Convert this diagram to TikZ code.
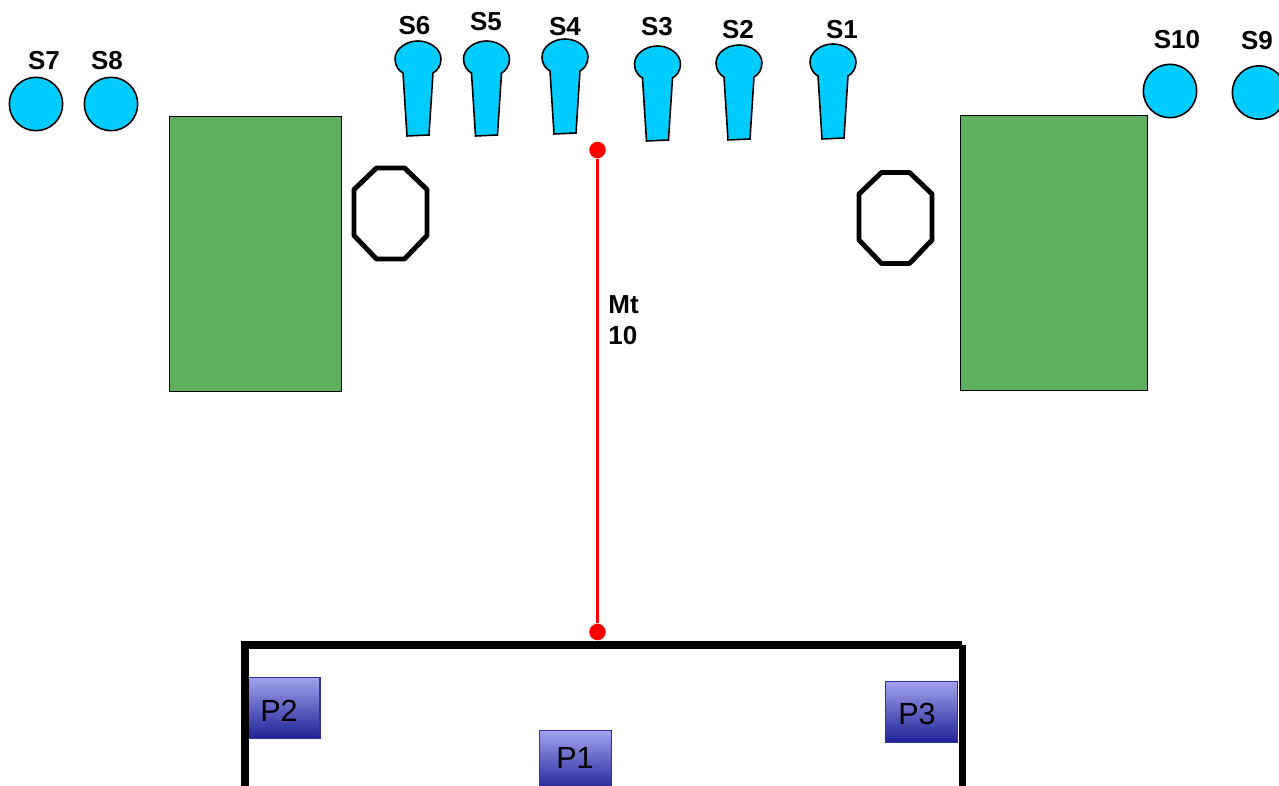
\documentclass[tikz,border=0pt]{standalone}
\usepackage{fontspec}
\setmainfont{Liberation Sans}
\definecolor{seatcyan}{RGB}{0,204,255}
\definecolor{blockgreen}{RGB}{94,176,94}
\definecolor{boxtop}{RGB}{162,162,238}
\definecolor{boxbot}{RGB}{32,32,150}
\definecolor{boxedge}{RGB}{50,50,160}
\definecolor{measurered}{RGB}{255,0,0}
\tikzset{
  lab/.style={font=\fontsize{14.8}{16}\selectfont\bfseries,inner sep=0pt},
  guest/.style={circle,draw=black,fill=seatcyan,line width=0.9pt,minimum size=30.4pt,inner sep=0pt},
  block/.style={draw=black,fill=blockgreen,line width=0.55pt},
  ring/.style={draw=black,line width=2.8pt,line join=round},
  wall/.style={line width=4.5pt},
  reddot/.style={circle,fill=measurered,minimum size=9.4pt,inner sep=0pt},
  measure/.style={draw=measurered,line width=1.3pt},
  podium/.style={draw=boxedge,line width=0.9pt,top color=boxtop,bottom color=boxbot,minimum width=41pt,minimum height=34.6pt,inner sep=0pt},
  podtext/.style={font=\fontsize{17.4}{19}\selectfont,inner sep=0pt}
}
\begin{document}
\begin{tikzpicture}[x=0.02cm,y=-0.02cm]
\clip (0,0) rectangle (1279,786);

% seats on stage
\foreach \x/\y/\name/\lx/\ly in {418/59/S6/414.5/26, 486.5/59/S5/486/22, 565/57/S4/565/27, 657.5/64/S3/657/27, 739/63/S2/738/30, 833/62/S1/842/30} {
\draw[draw=black,fill=seatcyan,line width=0.9pt] (\x-15,\y+14) .. controls (\x-19,\y+12) and (\x-23,\y+7) .. (\x-23,\y) .. controls (\x-23,\y-10) and (\x-12,\y-18) .. (\x,\y-18) .. controls (\x+12,\y-18) and (\x+23,\y-10) .. (\x+23,\y) .. controls (\x+23,\y+7) and (\x+19,\y+12) .. (\x+15,\y+14) -- (\x+11,\y+76) -- (\x-11,\y+77) -- cycle;
\node[lab] (lab\name) at (\lx,\ly) {\name};
}

% seats at the sides
\node[guest] (s7) at (36,104) {};
\node[guest] (s8) at (111,104) {};
\node[guest] (s10) at (1170,91) {};
\node[guest] (s9) at (1259,92.5) {};
\node[lab] (labS7) at (44,61) {S7};
\node[lab] (labS8) at (107,61) {S8};
\node[lab] (labS10) at (1177,40) {S10};
\node[lab] (labS9) at (1257,41) {S9};

% green blocks
\draw[block] (169,116.5) rectangle (341,391.5);
\draw[block] (960.5,115.5) rectangle (1147,390);

% octagons
\foreach \x/\y in {390.5/213.5, 895.5/218} {
\draw[ring] (\x-14,\y-45.5) -- (\x+14,\y-45.5) -- (\x+36.5,\y-24) -- (\x+36.5,\y+22) -- (\x+14,\y+45.5) -- (\x-14,\y+45.5) -- (\x-36.5,\y+22) -- (\x-36.5,\y-24) -- cycle;
}

% measure
\node[reddot] (topdot) at (597.5,150) {};
\node[reddot] (botdot) at (597.5,632) {};
\draw[measure] (topdot) -- (botdot);
\node[lab,anchor=west] (mt) at (608,305) {Mt};
\node[lab,anchor=west] (ten) at (608,336) {10};

% boxes
\node[podium] (p2) at (284,708) {};
\node[podium] (p3) at (921.5,712) {};
\node[podium] (p1) at (575.5,761) {};
\node[podtext] (labP2) at (279,711) {P2};
\node[podtext] (labP3) at (917,714) {P3};
\node[podtext] (labP1) at (575,758) {P1};

% walls
\draw[wall] (244,645) -- (962,645);
\draw[wall] (245,641.5) -- (245,786);
\draw[wall] (962.5,645) -- (962.5,786);

\end{tikzpicture}
\end{document}
